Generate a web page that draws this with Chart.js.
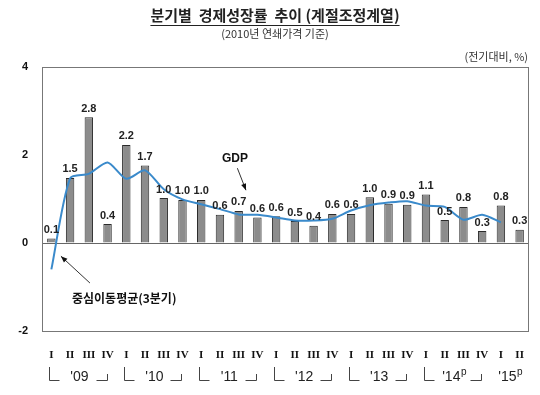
<!DOCTYPE html>
<html>
<head>
<meta charset="utf-8">
<script src="https://cdn.jsdelivr.net/npm/chart.js@4.4.1/dist/chart.umd.min.js"></script>
<style>
  html, body { margin: 0; padding: 0; background: #fff; }
  #wrap { width: 540px; height: 395px; position: relative; }
</style>
</head>
<body>
<div id="wrap"><canvas id="growthChart" width="540" height="395"></canvas></div>
<script>
// Quarterly real GDP growth (q/q, seasonally adjusted), 2009 Q1 - 2015 Q2
const quarters = ['I','II','III','IV','I','II','III','IV','I','II','III','IV','I','II','III','IV',
                  'I','II','III','IV','I','II','III','IV','I','II'];
const growth = [0.1, 1.48, 2.86, 0.43, 2.23, 1.76, 1.02, 0.98, 0.98, 0.64, 0.73, 0.58, 0.61,
                0.5, 0.39, 0.66, 0.66, 1.04, 0.89, 0.87, 1.1, 0.52, 0.82, 0.27, 0.85, 0.3];
const growthLabels = ['0.1','1.5','2.8','0.4','2.2','1.7','1.0','1.0','1.0','0.6','0.7','0.6','0.6',
                      '0.5','0.4','0.6','0.6','1.0','0.9','0.9','1.1','0.5','0.8','0.3','0.8','0.3'];
// centred 3-quarter moving average (no value for the last quarter)
const movingAvg = [-0.6, 1.47, 1.57, 1.83, 1.46, 1.65, 1.22, 0.99, 0.88, 0.77, 0.65, 0.64, 0.58,
                   0.51, 0.51, 0.55, 0.74, 0.86, 0.92, 0.95, 0.85, 0.82, 0.53, 0.64, 0.47, null];
const years = ["'09", "'10", "'11", "'12", "'13", "'14", "'15"];
const prelimYears = ["'14", "'15"];
const yTicks = [-2, 0, 2, 4];

const KR = '"Noto Sans CJK KR", "Noto Sans", sans-serif';
const SANS = '"Liberation Sans", Arial, sans-serif';

function arrow(ctx, x1, y1, x2, y2) {
    const a = Math.atan2(y2 - y1, x2 - x1);
    ctx.beginPath();
    ctx.moveTo(x1, y1);
    ctx.lineTo(x2, y2);
    ctx.stroke();
    ctx.beginPath();
    ctx.moveTo(x2, y2);
    ctx.lineTo(x2 - 7 * Math.cos(a - 0.38), y2 - 7 * Math.sin(a - 0.38));
    ctx.lineTo(x2 - 7 * Math.cos(a + 0.38), y2 - 7 * Math.sin(a + 0.38));
    ctx.closePath();
    ctx.fill();
}

// Titles, frame, bar labels, year brackets and callouts
const extras = {
    id: 'extras',
    afterDatasetsDraw(chart) {
        const ctx = chart.ctx;
        const area = chart.chartArea;
        const xs = chart.scales.x, ys = chart.scales.y;
        const px = (i, v) => [xs.getPixelForValue(i), ys.getPixelForValue(v)];
        ctx.save();

        // frame
        ctx.strokeStyle = '#777';
        ctx.lineWidth = 1;
        ctx.strokeRect(area.left + 0.5, area.top + 0.5, area.right - area.left - 1, area.bottom - area.top);

        // bar value labels
        const bars = chart.getDatasetMeta(0).data;
        ctx.fillStyle = '#222';
        ctx.font = 'bold 11px ' + SANS;
        ctx.textAlign = 'center';
        ctx.textBaseline = 'bottom';
        bars.forEach((bar, i) => {
            ctx.fillText(growthLabels[i], bar.x, bar.y - 3);
        });

        // title
        const cx = 275;
        ctx.font = 'bold 15px ' + KR;
        ctx.textBaseline = 'middle';
        const title = '분기별  경제성장률  추이 (계절조정계열)';
        ctx.fillText(title, cx, 15);
        const tw = ctx.measureText(title).width;
        ctx.strokeStyle = '#222';
        ctx.beginPath();
        ctx.moveTo(cx - tw / 2, 25.5);
        ctx.lineTo(cx + tw / 2, 25.5);
        ctx.stroke();

        ctx.font = '11px ' + KR;
        ctx.fillStyle = '#333';
        ctx.fillText('(2010년 연쇄가격 기준)', cx, 34);
        ctx.textAlign = 'right';
        ctx.fillText('(전기대비, %)', area.right - 1, 57);

        // year brackets under the quarter labels
        ctx.strokeStyle = '#444';
        ctx.fillStyle = '#222';
        const yb = area.bottom + 49.5;
        years.forEach((yr, k) => {
            const i0 = 4 * k;
            const i3 = i0 + 3;
            let mid = xs.getPixelForValue(i0 + 1.5);
            if (i3 < quarters.length) {
                const xl = Math.round(xs.getPixelForValue(i0)) - 1.5;
                const xr = Math.round(xs.getPixelForValue(i3)) - 0.5;
                ctx.beginPath();
                ctx.moveTo(xl, area.bottom + 36);
                ctx.lineTo(xl, yb);
                ctx.lineTo(xl + 10, yb);
                ctx.moveTo(xr - 11, yb);
                ctx.lineTo(xr, yb);
                ctx.lineTo(xr, area.bottom + 43);
                ctx.stroke();
            } else {
                mid = xs.getPixelForValue(i0 + 0.5);
            }
            ctx.textBaseline = 'alphabetic';
            ctx.font = '14px ' + SANS;
            const w1 = ctx.measureText(yr).width;
            const prelim = prelimYears.includes(yr);
            ctx.font = '10px ' + SANS;
            const w2 = prelim ? ctx.measureText('p').width : 0;
            const start = mid - (w1 + w2) / 2;
            ctx.textAlign = 'left';
            ctx.font = '14px ' + SANS;
            ctx.fillText(yr, start, area.bottom + 50);
            if (prelim) {
                ctx.font = '10px ' + SANS;
                ctx.fillText('p', start + w1 + 0.5, area.bottom + 44);
            }
        });

        // callouts
        ctx.strokeStyle = '#333';
        ctx.fillStyle = '#111';
        ctx.lineWidth = 1;
        ctx.font = 'bold 12px ' + SANS;
        ctx.textAlign = 'center';
        ctx.textBaseline = 'middle';
        let p = px(9.8, 1.91);
        ctx.fillText('GDP', p[0], p[1]);
        let a = px(9.93, 1.7), b = px(10.39, 1.2);
        arrow(ctx, a[0], a[1], b[0], b[1]);

        ctx.font = 'bold 12px ' + KR;
        ctx.textAlign = 'left';
        p = px(1.1, -1.27);
        ctx.fillText('중심이동평균(3분기)', p[0], p[1]);
        a = px(2.06, -0.91); b = px(0.51, -0.3);
        arrow(ctx, a[0], a[1], b[0], b[1]);

        ctx.restore();
    }
};

const ctx = document.getElementById('growthChart').getContext('2d');
new Chart(ctx, {
    data: {
        labels: quarters,
        datasets: [{
            type: 'bar',
            label: 'GDP',
            data: growth,
            backgroundColor: '#8c8c8c',
            borderColor: '#2b2b2b',
            borderWidth: 1,
            barPercentage: 0.45,
            categoryPercentage: 1,
            order: 2
        }, {
            type: 'line',
            label: '중심이동평균(3분기)',
            data: movingAvg,
            borderColor: '#3a8acb',
            borderWidth: 2,
            pointRadius: 0,
            tension: 0.25,
            fill: false,
            order: 1
        }]
    },
    options: {
        responsive: false,
        animation: false,
        devicePixelRatio: 1,
        layout: { padding: { top: 67, right: 11, left: 0, bottom: 0 } },
        plugins: {
            legend: { display: false },
            tooltip: { enabled: false }
        },
        scales: {
            x: {
                grid: { display: false },
                border: { display: false },
                ticks: {
                    color: '#111',
                    font: { family: '"Liberation Serif", "Times New Roman", serif', weight: 'bold', size: 11 },
                    padding: 10,
                    maxRotation: 0,
                    autoSkip: false
                },
                afterFit(scale) { scale.height = 64; }
            },
            y: {
                min: -2,
                max: 4,
                afterBuildTicks(scale) { scale.ticks = yTicks.map(v => ({ value: v })); },
                grid: {
                    drawTicks: false,
                    color: c => (c.tick && c.tick.value === 0) ? '#666' : 'rgba(0,0,0,0)'
                },
                border: { display: false },
                ticks: {
                    color: '#111',
                    font: { family: SANS, weight: 'bold', size: 11 },
                    padding: 14
                },
                afterFit(scale) { scale.width = 42; }
            }
        }
    },
    plugins: [extras]
});
</script>
</body>
</html>
